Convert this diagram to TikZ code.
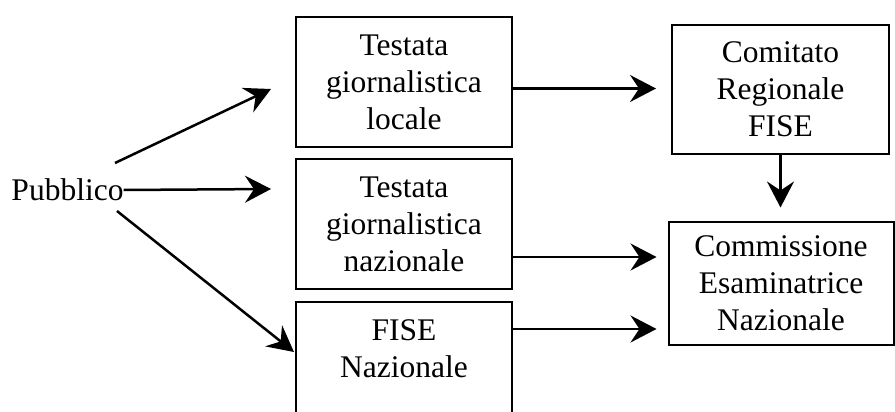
\documentclass[tikz,border=0pt]{standalone}
\usepackage{fontspec}
\setmainfont{Liberation Serif}
\usetikzlibrary{arrows.meta,calc}
\begin{document}
\begin{tikzpicture}[x=1pt,y=-1pt,
  box/.style={draw,line width=2pt,rectangle,inner sep=0pt,align=center,
    font=\fontsize{31.5}{37}\selectfont},
  lbl/.style={inner sep=0pt,font=\fontsize{31.5}{37}\selectfont},
  arr/.style={line width=2.5pt,-{Stealth[length=26pt,width=27pt,inset=9pt]}}]
\useasboundingbox (0,0) rectangle (895,412);
\clip (0,0) rectangle (895,412);
\node[lbl] (pub) at (67.5,190) {Pubblico};
\node[box,minimum width=216pt,minimum height=130pt] (b1) at (404,82)
  {Testata\\giornalistica\\locale};
\node[box,minimum width=216pt,minimum height=130pt] (b2) at (404,224)
  {Testata\\giornalistica\\nazionale};
\node[box,minimum width=216pt,minimum height=130pt] (b3) at (404,367)
  {FISE\\Nazionale\\\mbox{}};
\node[box,minimum width=217pt,minimum height=129pt] (b4) at (780.5,89.5)
  {Comitato\\Regionale\\FISE};
\node[box,minimum width=225pt,minimum height=123pt] (b5) at (781,283)
  {Commissione\\Esaminatrice\\Nazionale};
% from Pubblico
\draw[arr] ($(pub.center)+(47.5,-27)$) -- ($(b1.west)+(-24,7)$);
\draw[arr] (pub.east) -- ($(b2.west)+(-24,-35)$);
\draw[arr] ($(pub.center)+(49.5,21)$) -- ($(b3.west)+(-1,-15)$);
% to right column
\coordinate (p1) at ($(b1.east)+(0,6.5)$);
\draw[arr,shorten >=15pt] (p1) -- (p1 -| b4.west);
\coordinate (p2) at ($(b2.east)+(0,33)$);
\draw[arr,shorten >=11pt] (p2) -- (p2 -| b5.west);
\coordinate (p3) at ($(b3.east)+(0,-38)$);
\draw[arr,shorten >=11pt] (p3) -- (p3 -| b5.west);
\draw[arr,shorten >=13pt] (b4.south) -- (b4.south |- b5.north);
\end{tikzpicture}
\end{document}
